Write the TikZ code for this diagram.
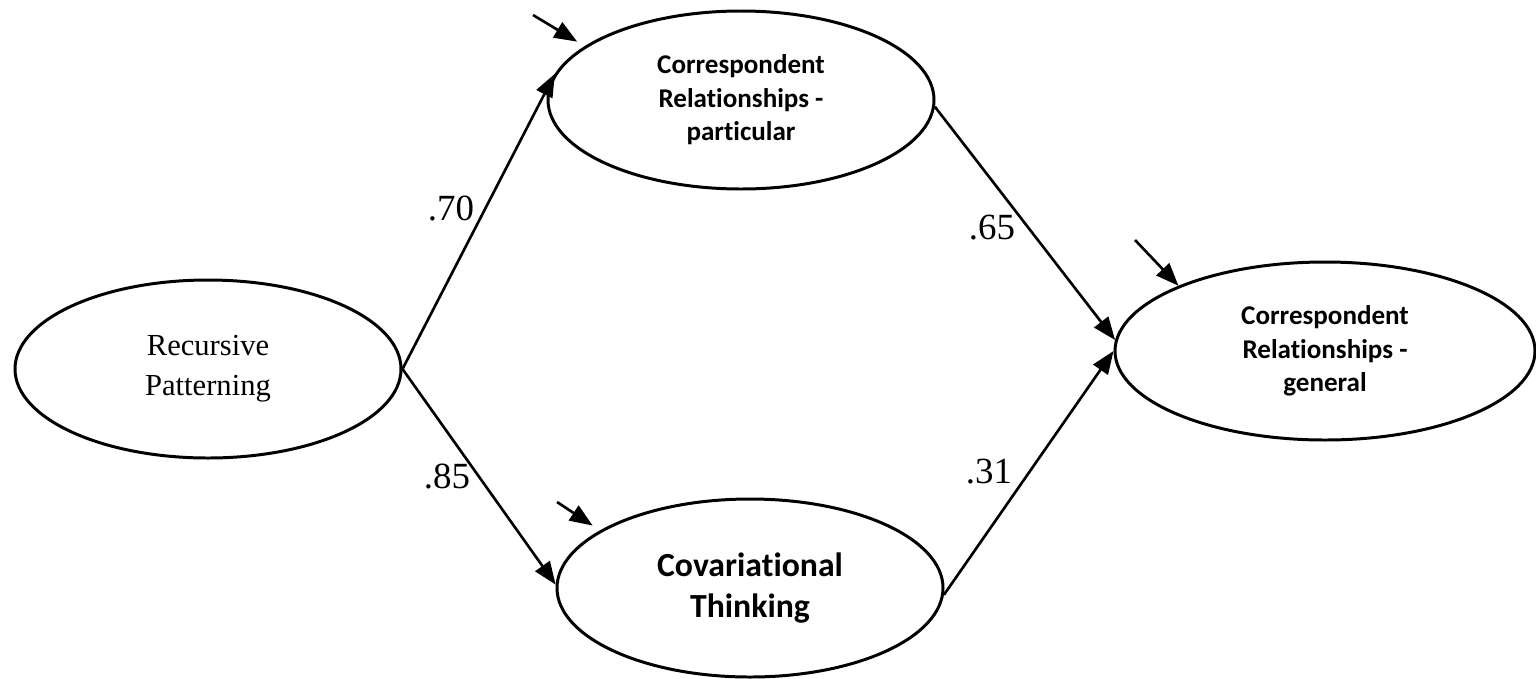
\documentclass[tikz,border=0pt]{standalone}
\usepackage{fontspec}
\setmainfont{Liberation Serif}
\newfontfamily\calibrifont[Ligatures=NoCommon]{Carlito}
\usetikzlibrary{shapes.geometric, arrows.meta, positioning}
\tikzset{
    latent/.style={draw, ellipse, line width=0.85pt, minimum width=3.86cm, minimum height=1.78cm, inner sep=0pt, align=center, fill=white},
    plainlatent/.style={latent, font=\fontsize{8.7}{11.4}\selectfont},
    boldlatent/.style={latent, font=\calibrifont\bfseries\fontsize{7.7}{9.5}\selectfont},
    pathline/.style={-{Triangle[length=6.5pt, width=5pt]}, line width=0.75pt},
    coef/.style={font=\fontsize{10.5}{12}\selectfont, inner sep=0pt}
}

\begin{document}
\begin{tikzpicture}
        % Canvas
        \useasboundingbox (0,0) rectangle (15.36,-6.78);

        % Latent variables
        \node[plainlatent] (rp) at (2.08,-3.69) {Recursive\\Patterning};
        \node[boldlatent] (crp) at (7.41,-1.00) {Correspondent\\Relationships -\\particular};
        \node[boldlatent, font=\calibrifont\bfseries\fontsize{9.6}{11.6}\selectfont] (ct) at (7.50,-5.88) {Covariational\\Thinking};
        \node[boldlatent, minimum width=4.2cm] (crg) at (13.25,-3.51) {Correspondent\\Relationships -\\general};

        % Structural paths
        \draw[pathline] (rp.east) -- (crp.172);
        \draw[pathline] (rp.east) -- (ct.179);
        \draw[pathline] (crp.-2) -- (crg.177.5);
        \draw[pathline] (ct.-2) -- (crg.180.5);

        % Disturbance terms
        \coordinate (dcrp) at (5.33,-0.15);
        \coordinate (dct) at (5.57,-5.02);
        \coordinate (dcrg) at (11.35,-2.40);
        \foreach \src/\dst in {dcrp/crp.161.5, dct/ct.159} {
            \draw[pathline, shorten >=2.5pt] (\src) -- (\dst);
        }
        \draw[pathline] (dcrg) -- (crg.156.5);

        % Path coefficients
        \node[coef] (c70) at (4.51,-2.08) {.70};
        \node[coef] (c85) at (4.47,-4.76) {.85};
        \node[coef] (c65) at (9.92,-2.28) {.65};
        \node[coef] (c31) at (9.89,-4.72) {.31};
    \end{tikzpicture}
\end{document}
